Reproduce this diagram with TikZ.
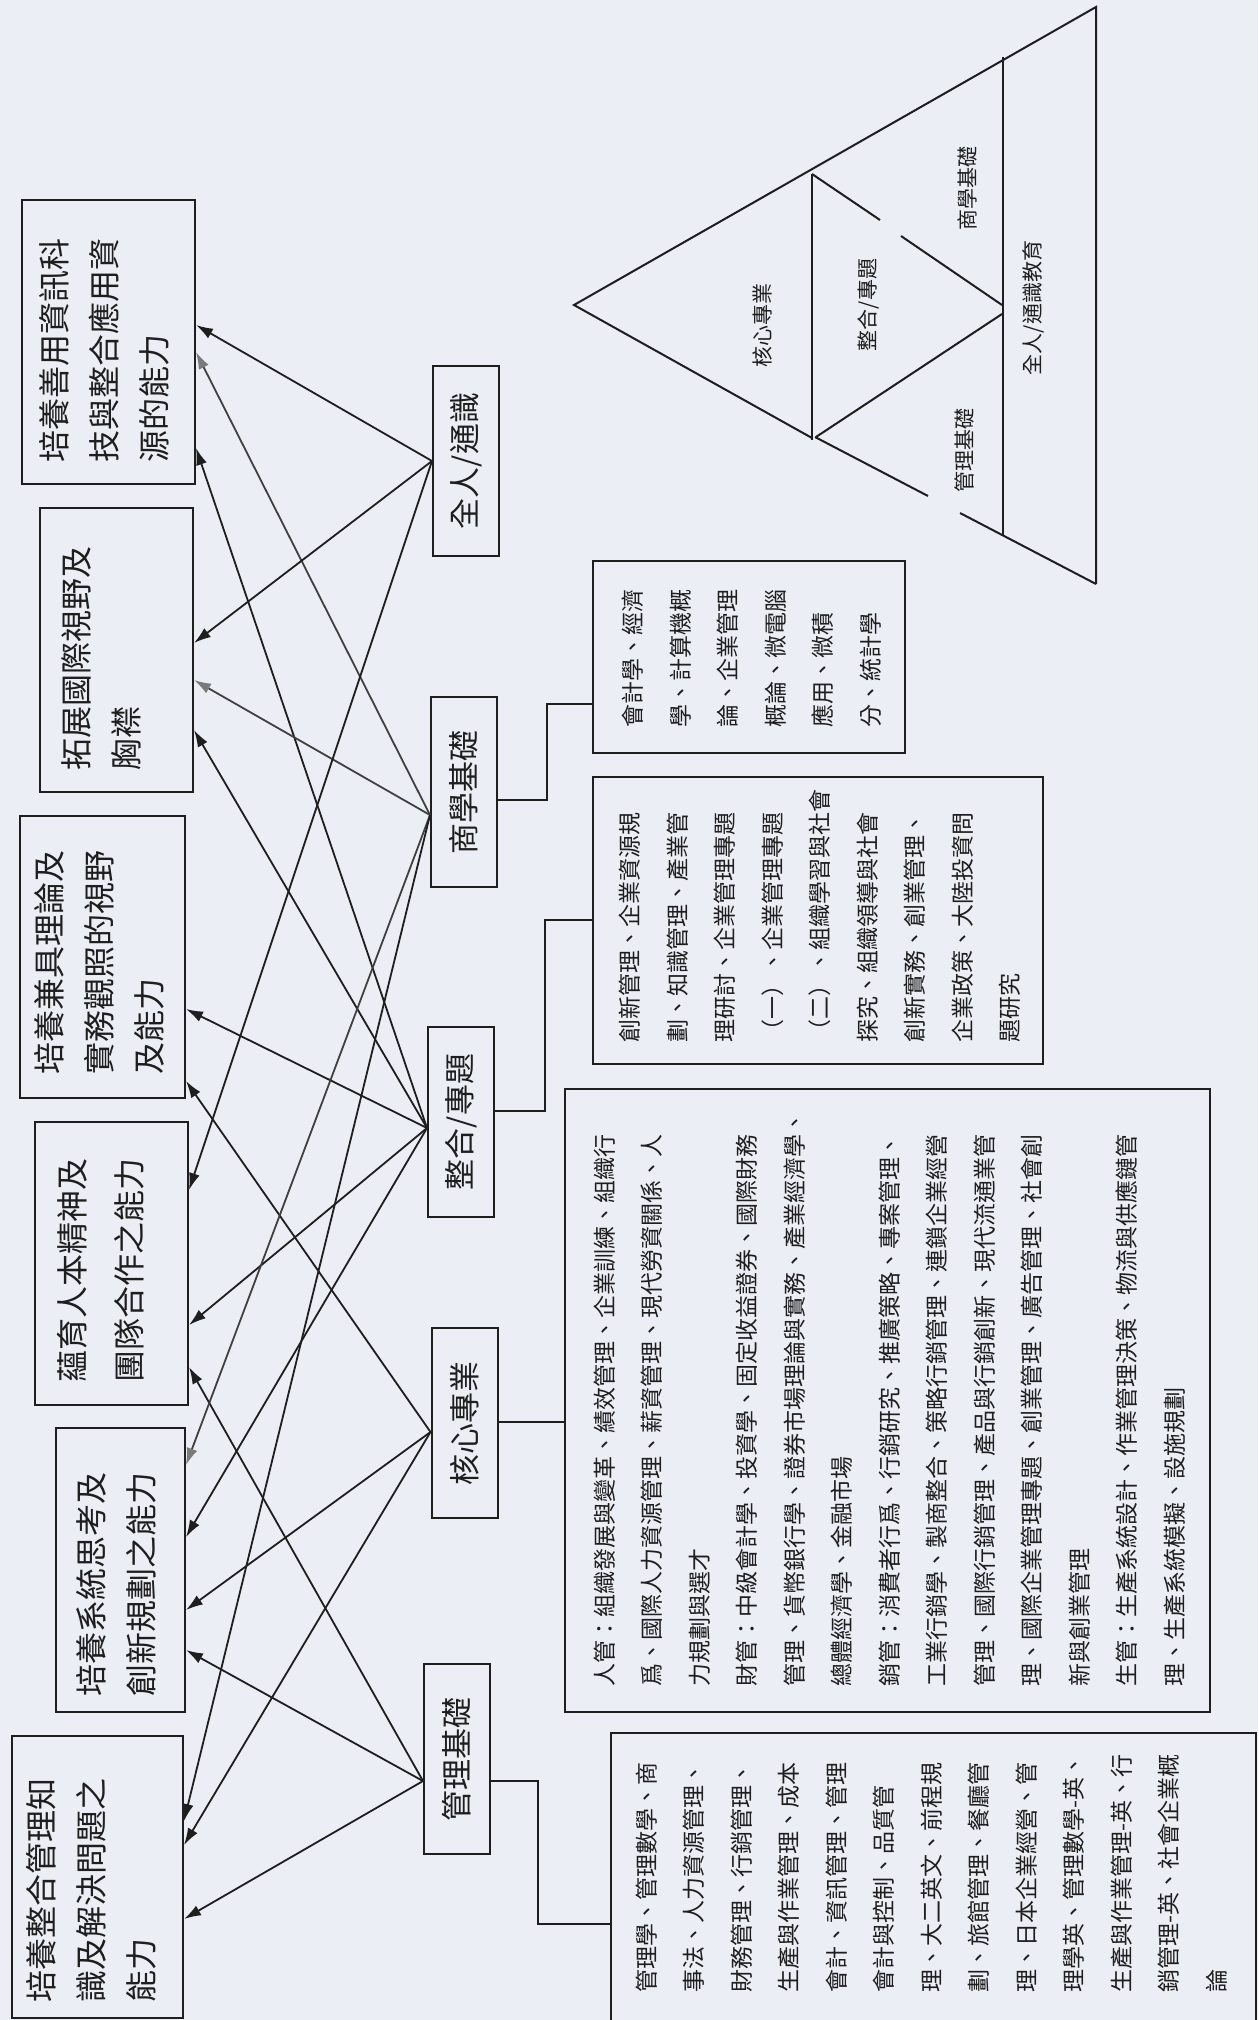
\documentclass[tikz,border=0pt]{standalone}
\usepackage{fontspec}
\usepackage{graphicx}
\setmainfont{Noto Sans CJK TC}
\usetikzlibrary{arrows.meta}
\definecolor{bg}{HTML}{ECEEF6}
\definecolor{ink}{HTML}{1E1E1E}
\definecolor{tipgray}{HTML}{7A7A7A}
\begin{document}
\begin{tikzpicture}[x=1pt,y=-1pt,
  frame/.style={draw=ink, line width=2pt, inner sep=0pt},
  catbox/.style={draw=ink, line width=2pt, minimum width=66pt, minimum height=190pt, inner sep=0pt, font=\fontsize{31}{31}\selectfont, text=ink},
  otext/.style={rotate=90, anchor=west, align=left, inner sep=0pt, font=\fontsize{32}{50}\selectfont, text=ink},
  dtext/.style={rotate=90, anchor=west, align=left, inner sep=0pt, font=\fontsize{23}{47.5}\selectfont, text=ink},
  arr/.style={draw=ink, line width=1.8pt, -{Latex[length=17pt,width=11pt]}},
  garr/.style={draw=ink!85, line width=1.8pt, -{Latex[length=17pt,width=11pt,color=tipgray]}},
  conn/.style={draw=ink, line width=2pt},
  tri/.style={draw=ink, line width=2pt},
  tlabel/.style={rotate=90, inner sep=0pt, font=\fontsize{21}{21}\selectfont, text=ink}]
\fill[bg] (0,0) rectangle (1258,2020);
\useasboundingbox (0,0) rectangle (1258,2020);

% outcome boxes
\node[frame, minimum width=173pt, minimum height=284pt] (F) at (108.5,342) {};
\node[frame, minimum width=153pt, minimum height=284pt] (E) at (116.5,650) {};
\node[frame, minimum width=165pt, minimum height=282pt] (D) at (102.5,957) {};
\node[frame, minimum width=153pt, minimum height=283pt] (C) at (111.5,1263.5) {};
\node[frame, minimum width=129pt, minimum height=284pt] (B) at (120.5,1570) {};
\node[frame, minimum width=171pt, minimum height=282pt] (A) at (97.5,1877) {};

\node[otext] (Ft) at (104,463) {培養善用資訊科\\技與整合應用資\\源的能力};
\node[otext] (Et) at (101,771) {拓展國際視野及\\胸襟};
\node[otext] (Dt) at (99,1075) {培養兼具理論及\\實務觀照的視野\\及能力};
\node[otext, font=\fontsize{32}{57}\selectfont] (Ct) at (100.5,1383) {蘊育人本精神及\\團隊合作之能力};
\node[otext] (Bt) at (116,1697) {培養系統思考及\\創新規劃之能力};
\node[otext] (At) at (91,2003) {培養整合管理知\\識及解決問題之\\能力};

% category boxes
\node[catbox] (Q) at (466,461) {\rotatebox{90}{全人/通識}};
\node[catbox] (S) at (464,792) {\rotatebox{90}{商學基礎}};
\node[catbox] (I) at (461,1122) {\rotatebox{90}{整合/專題}};
\node[catbox] (K) at (464.5,1423) {\rotatebox{90}{核心專業}};
\node[catbox] (M) at (457,1759) {\rotatebox{90}{管理基礎}};

% description boxes
\node[frame, minimum width=312pt, minimum height=192pt] (SD) at (749,657) {};
\node[frame, minimum width=450pt, minimum height=287pt] (ID) at (818,920.5) {};
\node[frame, minimum width=645pt, minimum height=623pt] (KD) at (887.5,1400.5) {};
\node[frame, minimum width=645pt, minimum height=297pt] (MD) at (933.5,1881.5) {};

\node[dtext] (SDt) at (751.5,728) {會計學、經濟\\學、計算機概\\論、企業管理\\概論、微電腦\\應用、微積\\分、統計學};
\node[dtext] (IDt) at (820,1043) {創新管理、企業資源規\\劃、知識管理、產業管\\理研討、企業管理專題\\（一）、企業管理專題\\（二）、組織學習與社會\\探究、組織領導與社會\\創新實務、創業管理、\\企業政策、大陸投資問\\題研究};
\node[dtext] (KDt) at (889.5,1687) {人管：組織發展與變革、績效管理、企業訓練、組織行\\爲、國際人力資源管理、薪資管理、現代勞資關係、人\\力規劃與選才\\財管：中級會計學、投資學、固定收益證券、國際財務\\管理、貨幣銀行學、證券市場理論與實務、產業經濟學、\\總體經濟學、金融市場\\銷管：消費者行爲、行銷研究、推廣策略、專案管理、\\工業行銷學、製商整合、策略行銷管理、連鎖企業經營\\管理、國際行銷管理、產品與行銷創新、現代流通業管\\理、國際企業管理專題、創業管理、廣告管理、社會創\\新與創業管理\\生管：生產系統設計、作業管理決策、物流與供應鏈管\\理、生產系統模擬、設施規劃};
\node[dtext] (MDt) at (931.5,1993) {管理學、管理數學、商\\事法、人力資源管理、\\財務管理、行銷管理、\\生產與作業管理、成本\\會計、資訊管理、管理\\會計與控制、品質管\\理、大二英文、前程規\\劃、旅館管理、餐廳管\\理、日本企業經營、管\\理學英、管理數學-英、\\生產與作業管理-英、行\\銷管理-英、社會企業概\\論};

% connectors to description boxes
\draw[conn] (S.east |- 0,800) -| (547,704) -- (SD.west |- 0,704);
\draw[conn] (I.east |- 0,1111) -| (545,920) -- (ID.west |- 0,920);
\draw[conn] (K.east |- 0,1422) -- (KD.west |- 0,1422);
\draw[conn] (M.east |- 0,1781) -| (538,1924) -- (MD.west |- 0,1924);

% arrows
\draw[arr] (Q.west) -- (F.east |- 0,325);
\draw[garr] (S.west |- 0,815) -- (F.east |- 0,352);
\draw[arr] (I.west |- 0,1128) -- (F.east |- 0,448);
\draw[arr] (Q.west) -- (E.east |- 0,643);
\draw[garr] (S.west |- 0,815) -- (E.east |- 0,680);
\draw[arr] (I.west |- 0,1128) -- (E.east |- 0,730);
\draw[arr] (I.west |- 0,1128) -- (D.east |- 0,1009);
\draw[arr] (K.west |- 0,1432) -- (D.east |- 0,1081);
\draw[arr] (Q.west) -- (C.east |- 0,1190);
\draw[arr] (I.west |- 0,1128) -- (C.east |- 0,1325);
\draw[arr] (M.west |- 0,1781) -- (C.east |- 0,1367);
\draw[garr] (S.west |- 0,815) -- (B.east |- 0,1465);
\draw[arr] (I.west |- 0,1128) -- (B.east |- 0,1537);
\draw[arr] (K.west |- 0,1432) -- (B.east |- 0,1610);
\draw[arr] (M.west |- 0,1781) -- (B.east |- 0,1650);
\draw[arr] (S.west |- 0,815) -- (A.east |- 0,1821);
\draw[arr] (K.west |- 0,1432) -- (A.east |- 0,1845);
\draw[arr] (M.west |- 0,1781) -- (A.east |- 0,1919);

% pyramid
\draw[tri] (1096,584) -- (1096,7) -- (574,305) -- (812,438);
\draw[tri] (815,437) -- (928,496);
\draw[tri] (960,513) -- (1096,584);
\draw[tri] (1003,57) -- (1003,536);
\draw[tri] (812,174) -- (812,440);
\draw[tri] (812,174) -- (880,220);
\draw[tri] (901,236) -- (1002,305);
\draw[tri] (816,437) -- (1002,314);
\node[tlabel] (t1) at (762,325) {核心專業};
\node[tlabel] (t2) at (869,305) {整合/專題};
\node[tlabel] (t3) at (967,188) {商學基礎};
\node[tlabel] (t4) at (964,450) {管理基礎};
\node[tlabel] (t5) at (1033,308) {全人/通識教育};
\end{tikzpicture}
\end{document}
